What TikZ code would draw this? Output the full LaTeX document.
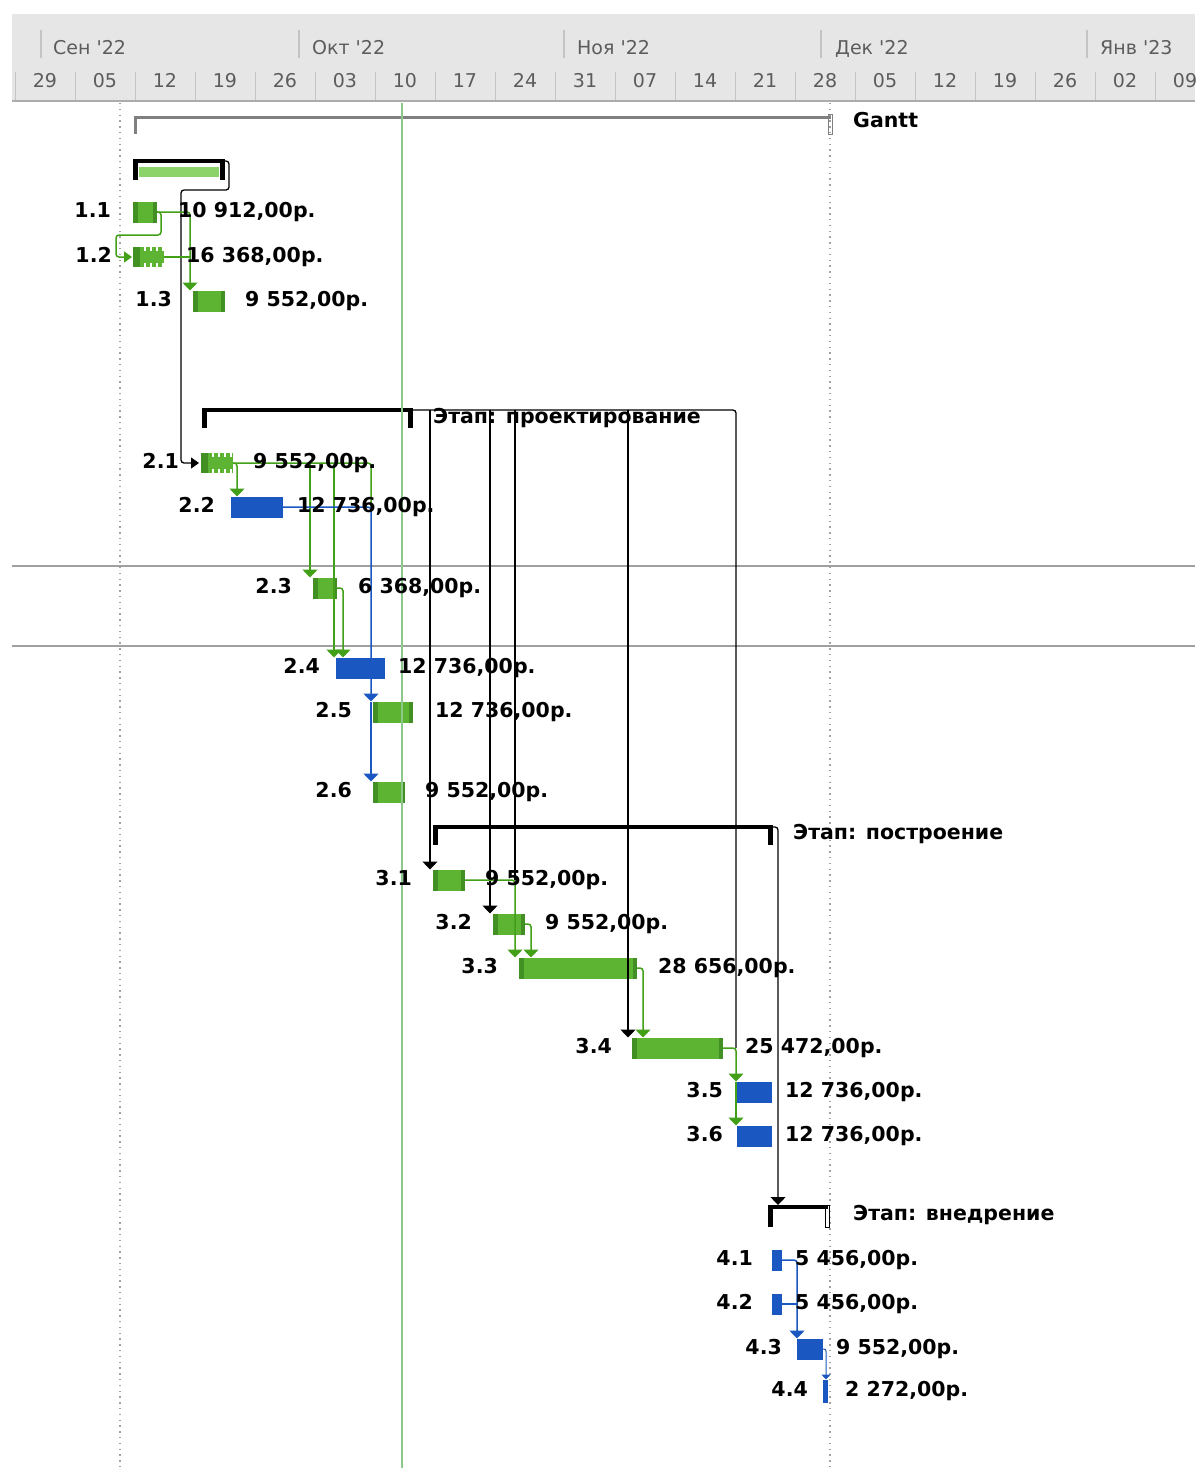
\documentclass[tikz,border=0pt]{standalone}
\usepackage{fontspec}
\setmainfont{DejaVu Sans}[Ligatures=TeXOff]
\usetikzlibrary{arrows.meta,calc}

\definecolor{hdrbg}{RGB}{230,230,230}
\definecolor{hdrline}{RGB}{172,172,172}
\definecolor{hdrtick}{RGB}{196,196,196}
\definecolor{hdrtext}{RGB}{92,92,92}
\definecolor{gmain}{RGB}{93,180,50}
\definecolor{gdark}{RGB}{66,143,36}
\definecolor{glight}{RGB}{140,212,105}
\definecolor{glinkc}{RGB}{66,160,24}
\definecolor{bmain}{RGB}{26,87,192}
\definecolor{nowline}{RGB}{140,200,140}
\definecolor{gridgray}{RGB}{160,160,160}
\definecolor{sumgray}{RGB}{128,128,128}

\newcommand\tagfont{\bfseries\fontsize{20.5}{24}\selectfont}
\newcommand\hdrfont{\fontsize{19}{22}\selectfont}

% summary bracket: top band plus two thick ends
\newcommand\bracketfill[2]{%
  \fill[#2] (#1.north west) rectangle ([yshift=-4pt]#1.north east);
  \fill[#2] (#1.north west) rectangle ([xshift=5pt]#1.south west);
  \fill[#2] ([xshift=-5pt]#1.north east) rectangle (#1.south east);}

\tikzset{
  bar/.style={inner sep=0pt, outer sep=0pt, anchor=west, minimum height=21pt},
  gbar/.style={bar, fill=gmain, path picture={
      \fill[gdark] (path picture bounding box.south west) rectangle ([xshift=5pt]path picture bounding box.north west);
      \fill[gdark] ([xshift=-4pt]path picture bounding box.south east) rectangle (path picture bounding box.north east);}},
  splitbar/.style={bar, fill=gmain, path picture={
      \fill[gdark] (path picture bounding box.south west) rectangle ([xshift=7pt]path picture bounding box.north west);
      \foreach \dx in {11,17,23,29}{
        \fill[white] ([xshift=\dx pt]path picture bounding box.north west) rectangle ([xshift=\dx pt+2pt,yshift=-4pt]path picture bounding box.north west);
        \fill[white] ([xshift=\dx pt]path picture bounding box.south west) rectangle ([xshift=\dx pt+2pt,yshift=4pt]path picture bounding box.south west);}}},
  bbar/.style={bar, fill=bmain},
  sumnode/.style={inner sep=0pt, outer sep=0pt, anchor=north west},
  idlabel/.style={anchor=base east, inner sep=0pt, font=\tagfont},
  costlabel/.style={anchor=base west, inner sep=0pt, font=\tagfont},
  monthlabel/.style={anchor=base west, inner sep=0pt, font=\hdrfont, text=hdrtext},
  daylabel/.style={anchor=base, inner sep=0pt, font=\hdrfont, text=hdrtext},
  link/.style={line width=1.5pt, rounded corners=3pt},
  glink/.style={link, draw=glinkc},
  klink/.style={link, draw=black, line width=1.3pt},
  ulink/.style={link, draw=bmain},
  tipd/.style={-{Triangle[width=15pt,length=8pt]}},
  tipr/.style={-{Triangle[width=11pt,length=8pt]}},
  tips/.style={-{Triangle[width=9pt,length=5pt]}},
}

\begin{document}
\begin{tikzpicture}[x=1pt,y=-1pt]
\useasboundingbox (0,0) rectangle (1195,1468);
\fill[white] (0,0) rectangle (1195,1468);

% ---- timescale header
\fill[hdrbg] (12,14) rectangle (1195,100);
\draw[hdrline, line width=2pt] (12,101) -- (1195,101);
\foreach \x in {41,299,564,821,1087}
  \draw[hdrtick, line width=1.5pt] (\x,30) -- (\x,58);
\foreach \k in {0,...,19}
  \draw[hdrtick, line width=1pt] ({15+60*\k},72) -- ({15+60*\k},100);
\node[monthlabel] (m1) at (53,54) {Сен '22};
\node[monthlabel] (m2) at (312,54) {Окт '22};
\node[monthlabel] (m3) at (577,54) {Ноя '22};
\node[monthlabel] (m4) at (835,54) {Дек '22};
\node[monthlabel] (m5) at (1100,54) {Янв '23};
\foreach \d [count=\k from 0] in {29,05,12,19,26,03,10,17,24,31,07,14,21,28,05,12,19,26,02,09}
  \node[daylabel] (day\k) at ({45+60*\k},87) {\d};

% ---- grid and markers
\draw[gridgray, line width=1.2pt] (12,566) -- (1195,566);
\draw[gridgray, line width=1.2pt] (12,646) -- (1195,646);
\draw[gridgray, line width=1.3pt, dash pattern=on 1.3pt off 4.5pt] (120,103) -- (120,1468);
\draw[gridgray, line width=1.3pt, dash pattern=on 1.3pt off 4.5pt] (830,103) -- (830,1468);

% ---- summary bars
\node[sumnode, minimum width=697pt, minimum height=18pt] (sp) at (134,116) {};
\fill[sumgray] (sp.north west) rectangle ([yshift=-3pt]sp.north east);
\fill[sumgray] (sp.north west) rectangle ([xshift=3pt]sp.south west);
\draw[sumgray, line width=1pt] ([xshift=-3pt,yshift=2pt]sp.north east) rectangle ([xshift=1pt]sp.south east);

\node[sumnode, minimum width=92pt, minimum height=21pt] (s1) at (133,159) {};
\fill[glight] ([xshift=6pt,yshift=-8pt]s1.north west) rectangle ([xshift=-6pt,yshift=-18pt]s1.north east);
\bracketfill{s1}{black}

\node[sumnode, minimum width=211pt, minimum height=20pt] (s2) at (202,408) {};
\bracketfill{s2}{black}

\node[sumnode, minimum width=340pt, minimum height=20pt] (s3) at (433,825) {};
\bracketfill{s3}{black}

\node[sumnode, minimum width=60pt, minimum height=22pt] (s4) at (768,1205) {};
\fill (s4.north west) rectangle ([yshift=-4pt]s4.north east);
\fill (s4.north west) rectangle ([xshift=5pt]s4.south west);
\draw[line width=1pt] ([xshift=-3pt]s4.north east) rectangle ([xshift=1pt]s4.south east);

% ---- task bars
\node[gbar, minimum width=24pt] (b11) at (133,212) {};
\node[splitbar, minimum width=31pt, minimum height=20pt] (b12) at (133,257) {};
\node[gbar, minimum width=32pt] (b13) at (193,301) {};
\node[splitbar, minimum width=32pt, minimum height=20pt] (b21) at (201,463) {};
\node[bbar, minimum width=52pt] (b22) at (231,507) {};
\node[gbar, minimum width=24pt] (b23) at (313,588) {};
\node[bbar, minimum width=49pt] (b24) at (336,668) {};
\node[gbar, minimum width=40pt] (b25) at (373,712) {};
\node[gbar, minimum width=32pt] (b26) at (373,792) {};
\node[gbar, minimum width=32pt] (b31) at (433,880) {};
\node[gbar, minimum width=32pt] (b32) at (493,924) {};
\node[gbar, minimum width=118pt] (b33) at (519,968) {};
\node[gbar, minimum width=91pt] (b34) at (632,1048) {};
\node[bbar, minimum width=35pt] (b35) at (737,1092) {};
\node[bbar, minimum width=35pt] (b36) at (737,1136) {};
\node[bbar, minimum width=10pt] (b41) at (772,1260) {};
\node[bbar, minimum width=10pt] (b42) at (772,1304) {};
\node[bbar, minimum width=26pt] (b43) at (797,1349) {};
\node[bbar, minimum width=5pt, minimum height=23pt] (b44) at (823,1391) {};

% ---- link lanes
\coordinate (x13) at (190,0);
\coordinate (x22) at (237,0);
\coordinate (x23) at (310,0);
\coordinate (x24) at (334,0);
\coordinate (x24b) at (343,0);
\coordinate (x25) at (371,0);
\coordinate (x31) at (430,0);
\coordinate (x32) at (490,0);
\coordinate (x33) at (515,0);
\coordinate (x33b) at (531,0);
\coordinate (x34) at (628,0);
\coordinate (x34b) at (643,0);
\coordinate (x35) at (736,0);
\coordinate (x4) at (778,0);
\coordinate (x43) at (797,0);
\coordinate (x44) at (826,0);
\coordinate (s1top) at ([yshift=-2pt]s1.north east);
\coordinate (s2top) at ([yshift=-2pt]s2.north east);
\coordinate (s3top) at ([yshift=-2pt]s3.north east);

% ---- links between summaries and tasks
\draw[klink, tipr] (s1top) -| (229,190) -| (181,463) -- ([xshift=-2pt]b21.west);
\draw[klink] (s2top) -| (b34.east -| x35);
\draw[klink, tipd] (s2top -| x31) -- (b31.north -| x31);
\draw[klink, tipd] (s2top -| x32) -- (b32.north -| x32);
\draw[klink] (s2top -| x33) -- (b31.east -| x33);
\draw[klink, tipd] (s2top -| x34) -- (b34.north -| x34);
\draw[klink, tipd] (s3top) -| (s4.north -| x4);

% ---- phase 1 links
\draw[glink, tipd] (b11.east) -| (b13.north -| x13);
\draw[glink] (b12.east) -- (b12.east -| x13);
\draw[glink, tipr] (b11.east) -| (161,235) -| (116,257) -- ([xshift=-1pt]b12.west);

% ---- phase 2 links
\draw[glink] (b21.east) -| (b22.east -| x25);
\draw[glink, tipd] (b21.east) -| (b22.north -| x22);
\draw[glink, tipd] (b21.east -| x23) -- (b23.north -| x23);
\draw[glink, tipd] (b21.east -| x24) -- (b24.north -| x24);
\draw[glink, tipd] (b23.east) -| (b24.north -| x24b);
\draw[ulink, tipd] (b22.east) -| (b25.north -| x25);
\draw[ulink, tipd] (b25.north -| x25) -- (b26.north -| x25);

% ---- phase 3 links
\draw[glink, tipd] (b31.east) -| (b33.north -| x33);
\draw[glink, tipd] (b32.east) -| (b33.north -| x33b);
\draw[glink, tipd] (b33.east) -| (b34.north -| x34b);
\draw[glink, tipd] (b34.east) -| (b35.north -| x35);
\draw[glink, tipd] (b35.north -| x35) -- (b36.north -| x35);

% ---- phase 4 links
\draw[ulink, tipd] (b41.east) -| (b43.north -| x43);
\draw[ulink] (b42.east) -- (b42.east -| x43);
\draw[ulink, line width=1pt, rounded corners=2pt, tips] (b43.east) -| (b44.north -| x44);

% ---- status date
\draw[nowline, line width=1.5pt] (402,103) -- (402,1468);

% ---- summary names
\node[costlabel] (tp) at (853,127) {Gantt};
\node[costlabel] (t2) at (433,423) {Этап: проектирование};
\node[costlabel] (t3) at (793,839) {Этап: построение};
\node[costlabel] (t4) at (853,1220) {Этап: внедрение};

% ---- task numbers
\node[idlabel] (i11) at (111,217) {1.1};
\node[idlabel] (i12) at (112,262) {1.2};
\node[idlabel] (i13) at (172,306) {1.3};
\node[idlabel] (i21) at (179,468) {2.1};
\node[idlabel] (i22) at (215,512) {2.2};
\node[idlabel] (i23) at (292,593) {2.3};
\node[idlabel] (i24) at (320,673) {2.4};
\node[idlabel] (i25) at (352,717) {2.5};
\node[idlabel] (i26) at (352,797) {2.6};
\node[idlabel] (i31) at (412,885) {3.1};
\node[idlabel] (i32) at (472,929) {3.2};
\node[idlabel] (i33) at (498,973) {3.3};
\node[idlabel] (i34) at (612,1053) {3.4};
\node[idlabel] (i35) at (723,1097) {3.5};
\node[idlabel] (i36) at (723,1141) {3.6};
\node[idlabel] (i41) at (753,1265) {4.1};
\node[idlabel] (i42) at (753,1309) {4.2};
\node[idlabel] (i43) at (782,1354) {4.3};
\node[idlabel] (i44) at (808,1396) {4.4};

% ---- costs
\node[costlabel] (c11) at (178,217) {10 912,00р.};
\node[costlabel] (c12) at (186,262) {16 368,00р.};
\node[costlabel] (c13) at (245,306) {9 552,00р.};
\node[costlabel] (c21) at (253,468) {9 552,00р.};
\node[costlabel] (c22) at (297,512) {12 736,00р.};
\node[costlabel] (c23) at (358,593) {6 368,00р.};
\node[costlabel] (c24) at (398,673) {12 736,00р.};
\node[costlabel] (c25) at (435,717) {12 736,00р.};
\node[costlabel] (c26) at (425,797) {9 552,00р.};
\node[costlabel] (c31) at (485,885) {9 552,00р.};
\node[costlabel] (c32) at (545,929) {9 552,00р.};
\node[costlabel] (c33) at (658,973) {28 656,00р.};
\node[costlabel] (c34) at (745,1053) {25 472,00р.};
\node[costlabel] (c35) at (785,1097) {12 736,00р.};
\node[costlabel] (c36) at (785,1141) {12 736,00р.};
\node[costlabel] (c41) at (795,1265) {5 456,00р.};
\node[costlabel] (c42) at (795,1309) {5 456,00р.};
\node[costlabel] (c43) at (836,1354) {9 552,00р.};
\node[costlabel] (c44) at (845,1396) {2 272,00р.};
\end{tikzpicture}
\end{document}
